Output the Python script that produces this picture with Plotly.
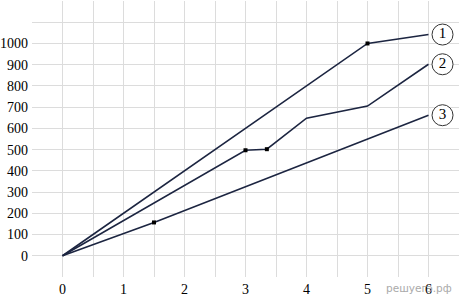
import plotly.graph_objects as go

# Data
line1_x = [0, 5, 6]
line1_y = [0, 1000, 1042]
line1_dots_x = [5]
line1_dots_y = [1000]

line2_x = [0, 3, 3.35, 4, 5, 6]
line2_y = [0, 497, 502, 648, 705, 902]
line2_dots_x = [3, 3.35]
line2_dots_y = [497, 502]

line3_x = [0, 1.5, 6]
line3_y = [0, 157, 662]
line3_dots_x = [1.5]
line3_dots_y = [157]

labels = ["1", "2", "3"]
label_x = [6.23, 6.23, 6.23]
label_y = [1042, 902, 662]

x_tickvals = [-0.5, 0, 0.5, 1, 1.5, 2, 2.5, 3, 3.5, 4, 4.5, 5, 5.5, 6, 6.5]
x_ticktext = ["", "0", "", "1", "", "2", "", "3", "", "4", "", "5", "", "6", ""]
y_tickvals = [-100, 0, 100, 200, 300, 400, 500, 600, 700, 800, 900, 1000, 1100, 1200]
y_ticktext = ["", "0", "100", "200", "300", "400", "500", "600", "700", "800", "900", "1000", "", ""]

LINE_COLOR = "#1c2541"
FONT = "Times New Roman"

fig = go.Figure()
for xs, ys in [(line1_x, line1_y), (line2_x, line2_y), (line3_x, line3_y)]:
    fig.add_trace(go.Scatter(x=xs, y=ys, mode="lines",
                             line=dict(color=LINE_COLOR, width=1.6),
                             hoverinfo="skip", showlegend=False))
for xs, ys in [(line1_dots_x, line1_dots_y), (line2_dots_x, line2_dots_y), (line3_dots_x, line3_dots_y)]:
    fig.add_trace(go.Scatter(x=xs, y=ys, mode="markers",
                             marker=dict(color="black", size=4, symbol="square"),
                             showlegend=False))
fig.add_trace(go.Scatter(x=label_x, y=label_y, mode="markers+text", text=labels,
                         textposition="middle center",
                         textfont=dict(family=FONT, size=15, color="black"),
                         marker=dict(symbol="circle", size=21, color="white",
                                     line=dict(color="#333333", width=1)),
                         cliponaxis=False, showlegend=False))

fig.update_layout(
    width=462, height=299,
    margin=dict(l=32, r=3, t=1, b=22),
    paper_bgcolor="white", plot_bgcolor="white",
    font=dict(family=FONT, size=14, color="black"),
    xaxis=dict(range=[-0.5, 6.5], tickvals=x_tickvals, ticktext=x_ticktext,
               showgrid=True, gridcolor="#dcdcdc", gridwidth=1, automargin=False,
               zeroline=False, showline=False, ticks="", ticklabelstandoff=2,
               tickfont=dict(family=FONT, size=14, color="black")),
    yaxis=dict(range=[-100, 1200], tickvals=y_tickvals, ticktext=y_ticktext,
               showgrid=True, gridcolor="#dcdcdc", gridwidth=1, automargin=False,
               zeroline=False, showline=False, ticks="", ticklabelstandoff=3,
               tickfont=dict(family=FONT, size=14, color="black")),
    annotations=[dict(text="решуегэ.рф", xref="paper", yref="paper",
                      x=0.988, y=-0.04, xanchor="right", yanchor="middle",
                      showarrow=False,
                      font=dict(family="DejaVu Sans", size=10.5, color="#aaaaaa"))],
)

fig.write_html("out.html")
